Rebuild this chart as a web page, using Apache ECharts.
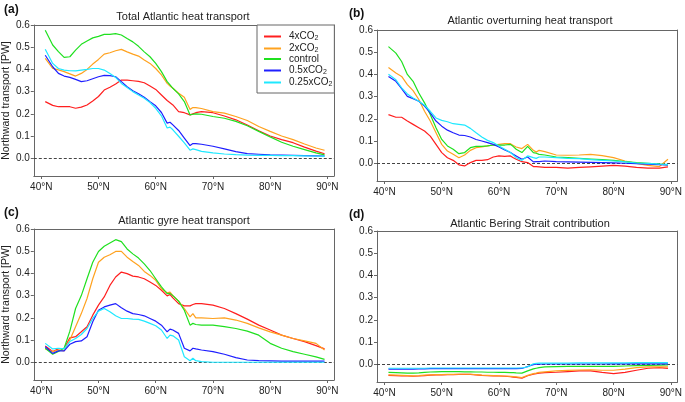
<!DOCTYPE html>
<html>
<head>
<meta charset="utf-8">
<script src="https://cdn.jsdelivr.net/npm/echarts@6/dist/echarts.min.js"></script>
<style>
  html, body { margin: 0; padding: 0; background: #fff; }
  #main { width: 685px; height: 402px; }
</style>
</head>
<body>
<div id="main"></div>
<script>
// latitude of each sample (°N), shared by every curve
const lats = [40.7, 42, 43, 44, 45, 46, 47, 48, 49, 50, 51, 52, 53, 54, 55, 56, 57, 58, 59, 60,
  61, 62, 62.5, 63, 64, 65, 66, 66.5, 67, 68, 70, 72, 74, 76, 78, 80, 82, 84, 86, 88, 89.5]

const scenarios = ['4xCO2', '2xCO2', 'control', '0.5xCO2', '0.25xCO2']
const colors = ['#ff1f1f', '#ffa21f', '#1fe01f', '#1f1fff', '#1fe8ff']
const panelTitles = ['Total Atlantic heat transport', 'Atlantic overturning heat transport',
  'Atlantic gyre heat transport', 'Atlantic Bering Strait contribution']
const panelTags = ['(a)', '(b)', '(c)', '(d)']
const xTicks = [40, 50, 60, 70, 80, 90]
const yTicks = [0, 0.1, 0.2, 0.3, 0.4, 0.5, 0.6]

// (a) total
const total4x = [0.255, 0.238, 0.232, 0.232, 0.232, 0.225, 0.23, 0.24, 0.258, 0.278, 0.307, 0.32, 0.334, 0.352, 0.352, 0.349, 0.346, 0.34, 0.325, 0.31,
  0.285, 0.26, 0.25, 0.24, 0.21, 0.205, 0.195, 0.2, 0.205, 0.21, 0.205, 0.19, 0.173, 0.15, 0.124, 0.1, 0.084, 0.07, 0.05, 0.032, 0.02]
const total2x = [0.45, 0.405, 0.398, 0.39, 0.38, 0.37, 0.382, 0.4, 0.424, 0.445, 0.469, 0.475, 0.484, 0.49, 0.479, 0.469, 0.46, 0.442, 0.427, 0.404,
  0.375, 0.337, 0.325, 0.315, 0.293, 0.275, 0.22, 0.228, 0.228, 0.224, 0.21, 0.203, 0.188, 0.17, 0.143, 0.121, 0.1, 0.084, 0.064, 0.046, 0.036]
const totalCtl = [0.576, 0.51, 0.48, 0.454, 0.457, 0.487, 0.513, 0.528, 0.542, 0.549, 0.558, 0.558, 0.561, 0.555, 0.539, 0.524, 0.504, 0.479, 0.457, 0.427,
  0.39, 0.345, 0.33, 0.315, 0.29, 0.255, 0.195, 0.198, 0.2, 0.198, 0.188, 0.18, 0.166, 0.146, 0.121, 0.096, 0.072, 0.054, 0.039, 0.024, 0.015]
const totalHalf = [0.464, 0.412, 0.382, 0.37, 0.364, 0.355, 0.345, 0.349, 0.358, 0.367, 0.373, 0.372, 0.367, 0.345, 0.322, 0.304, 0.29, 0.275, 0.255, 0.236,
  0.206, 0.158, 0.162, 0.15, 0.125, 0.091, 0.057, 0.066, 0.066, 0.063, 0.054, 0.042, 0.03, 0.021, 0.018, 0.015, 0.014, 0.013, 0.012, 0.011, 0.01]
const totalQuarter = [0.491, 0.427, 0.404, 0.397, 0.394, 0.393, 0.397, 0.4, 0.404, 0.404, 0.397, 0.382, 0.364, 0.337, 0.319, 0.3, 0.285, 0.27, 0.251, 0.225,
  0.191, 0.136, 0.14, 0.128, 0.099, 0.069, 0.036, 0.042, 0.039, 0.031, 0.024, 0.019, 0.016, 0.014, 0.013, 0.013, 0.012, 0.012, 0.011, 0.01, 0.008]

// (b) overturning
const moc4x = [0.219, 0.207, 0.207, 0.19, 0.175, 0.16, 0.145, 0.122, 0.085, 0.048, 0.025, 0.013, -0.007, -0.012, 0.003, 0.013, 0.013, 0.016, 0.028, 0.033,
  0.031, 0.033, 0.025, 0.018, 0.007, 0.003, -0.015, -0.015, -0.016, -0.019, -0.019, -0.022, -0.019, -0.016, -0.013, -0.01, -0.013, -0.019, -0.022, -0.022, -0.016]
const moc2x = [0.431, 0.406, 0.391, 0.354, 0.327, 0.287, 0.234, 0.19, 0.137, 0.085, 0.055, 0.04, 0.025, 0.037, 0.058, 0.07, 0.073, 0.078, 0.082, 0.085,
  0.088, 0.088, 0.08, 0.073, 0.066, 0.085, 0.058, 0.05, 0.058, 0.052, 0.037, 0.036, 0.037, 0.04, 0.034, 0.025, 0.01, -0.001, -0.01, -0.015, 0.018]
const mocCtl = [0.525, 0.496, 0.458, 0.4, 0.369, 0.316, 0.272, 0.219, 0.16, 0.107, 0.078, 0.063, 0.043, 0.048, 0.07, 0.076, 0.076, 0.078, 0.082, 0.082,
  0.082, 0.085, 0.075, 0.063, 0.048, 0.076, 0.048, 0.045, 0.04, 0.037, 0.028, 0.025, 0.022, 0.019, 0.016, 0.013, 0.007, 0.003, 0.0, -0.004, -0.007]
const mocHalf = [0.391, 0.369, 0.336, 0.301, 0.291, 0.279, 0.257, 0.227, 0.19, 0.167, 0.149, 0.137, 0.127, 0.125, 0.118, 0.107, 0.1, 0.093, 0.085, 0.073,
  0.06, 0.048, 0.04, 0.033, 0.018, 0.028, 0.006, 0.007, 0.007, 0.01, 0.007, 0.006, 0.005, 0.004, 0.003, 0.002, 0.0, -0.002, -0.004, -0.006, -0.008]
const mocQuarter = [0.401, 0.376, 0.339, 0.312, 0.294, 0.279, 0.261, 0.234, 0.204, 0.193, 0.187, 0.178, 0.175, 0.172, 0.157, 0.137, 0.118, 0.103, 0.093, 0.078,
  0.063, 0.048, 0.037, 0.025, 0.013, 0.033, 0.025, 0.022, 0.028, 0.028, 0.025, 0.022, 0.021, 0.016, 0.013, 0.01, 0.006, 0.001, -0.001, -0.004, -0.005]

// (c) gyre
const gyre4x = [0.073, 0.048, 0.06, 0.063, 0.11, 0.115, 0.137, 0.16, 0.212, 0.257, 0.294, 0.346, 0.384, 0.406, 0.399, 0.388, 0.384, 0.376, 0.361, 0.346,
  0.324, 0.299, 0.305, 0.29, 0.264, 0.254, 0.254, 0.26, 0.264, 0.264, 0.257, 0.242, 0.219, 0.194, 0.167, 0.145, 0.122, 0.107, 0.093, 0.075, 0.06]
const gyre2x = [0.06, 0.048, 0.055, 0.051, 0.1, 0.16, 0.219, 0.287, 0.376, 0.45, 0.473, 0.484, 0.499, 0.499, 0.473, 0.454, 0.436, 0.409, 0.391, 0.369,
  0.331, 0.313, 0.316, 0.3, 0.275, 0.242, 0.204, 0.219, 0.2, 0.2, 0.197, 0.2, 0.19, 0.175, 0.155, 0.137, 0.122, 0.107, 0.096, 0.085, 0.055]
const gyreCtl = [0.063, 0.036, 0.048, 0.063, 0.14, 0.242, 0.3, 0.376, 0.45, 0.499, 0.522, 0.537, 0.552, 0.543, 0.51, 0.488, 0.469, 0.443, 0.413, 0.376,
  0.339, 0.309, 0.31, 0.3, 0.275, 0.234, 0.167, 0.175, 0.17, 0.167, 0.167, 0.16, 0.152, 0.14, 0.122, 0.085, 0.063, 0.048, 0.036, 0.024, 0.013]
const gyreHalf = [0.07, 0.04, 0.051, 0.051, 0.081, 0.093, 0.096, 0.115, 0.182, 0.234, 0.249, 0.257, 0.264, 0.245, 0.23, 0.219, 0.215, 0.209, 0.197, 0.185,
  0.167, 0.137, 0.149, 0.145, 0.13, 0.063, 0.051, 0.063, 0.06, 0.055, 0.048, 0.036, 0.021, 0.01, 0.007, 0.006, 0.005, 0.005, 0.005, 0.005, 0.005]
const gyreQuarter = [0.085, 0.06, 0.063, 0.06, 0.093, 0.107, 0.125, 0.152, 0.197, 0.23, 0.242, 0.227, 0.209, 0.197, 0.197, 0.194, 0.193, 0.185, 0.175, 0.164,
  0.145, 0.107, 0.122, 0.119, 0.1, 0.025, 0.007, 0.018, 0.007, 0.003, 0.0, 0.0, 0.0, 0.0, 0.0, 0.0, 0.0, 0.0, 0.0, 0.0, 0.0]

// (d) Bering Strait
const bering4x = [-0.05, -0.051, -0.052, -0.053, -0.054, -0.053, -0.051, -0.049, -0.048, -0.048, -0.047, -0.047, -0.046, -0.046, -0.046, -0.048, -0.05, -0.051, -0.052, -0.053,
  -0.054, -0.056, -0.058, -0.059, -0.063, -0.052, -0.045, -0.042, -0.04, -0.038, -0.036, -0.033, -0.03, -0.03, -0.037, -0.042, -0.037, -0.027, -0.018, -0.015, -0.019]
const bering2x = [-0.048, -0.049, -0.05, -0.051, -0.052, -0.051, -0.049, -0.048, -0.047, -0.047, -0.046, -0.046, -0.045, -0.045, -0.045, -0.047, -0.049, -0.05, -0.051, -0.052,
  -0.053, -0.055, -0.056, -0.057, -0.06, -0.05, -0.042, -0.04, -0.037, -0.034, -0.03, -0.028, -0.026, -0.025, -0.027, -0.027, -0.022, -0.015, -0.012, -0.012, -0.012]
const beringCtl = [-0.037, -0.038, -0.039, -0.04, -0.04, -0.039, -0.037, -0.035, -0.034, -0.033, -0.033, -0.033, -0.033, -0.034, -0.034, -0.035, -0.035, -0.036, -0.036, -0.037,
  -0.037, -0.038, -0.038, -0.039, -0.04, -0.03, -0.021, -0.018, -0.015, -0.012, -0.011, -0.01, -0.01, -0.01, -0.01, -0.01, -0.008, -0.006, -0.005, -0.004, -0.003]
const beringHalf = [-0.022, -0.022, -0.022, -0.022, -0.022, -0.021, -0.021, -0.02, -0.02, -0.02, -0.02, -0.02, -0.02, -0.02, -0.02, -0.02, -0.02, -0.02, -0.02, -0.02,
  -0.02, -0.02, -0.02, -0.02, -0.019, -0.01, -0.002, 0.0, 0.0, 0.001, 0.001, 0.001, 0.001, 0.001, 0.001, 0.002, 0.002, 0.002, 0.002, 0.002, 0.002]
const beringQuarter = [-0.018, -0.018, -0.018, -0.018, -0.018, -0.018, -0.018, -0.017, -0.017, -0.017, -0.017, -0.017, -0.017, -0.017, -0.017, -0.017, -0.017, -0.017, -0.017, -0.017,
  -0.017, -0.017, -0.017, -0.017, -0.017, -0.012, 0.002, 0.004, 0.005, 0.005, 0.005, 0.005, 0.006, 0.006, 0.006, 0.006, 0.006, 0.007, 0.007, 0.007, 0.007]

const panels = [
  [total4x, total2x, totalCtl, totalHalf, totalQuarter],
  [moc4x, moc2x, mocCtl, mocHalf, mocQuarter],
  [gyre4x, gyre2x, gyreCtl, gyreHalf, gyreQuarter],
  [bering4x, bering2x, beringCtl, beringHalf, beringQuarter]
]

const font = "'Liberation Sans', Arial, sans-serif"
const grids = [
  { left: 32, top: 25, width: 302, height: 151 },
  { left: 377, top: 30, width: 302, height: 151 },
  { left: 32, top: 229, width: 302, height: 151 },
  { left: 377, top: 231, width: 302, height: 151 }
]
const titlePos = [[183, 11], [530, 15], [184, 215], [530, 218]]
const tagPos = [[4, 4], [349, 8], [4, 207], [349, 209]]
const frameColor = '#666'

var myChart = echarts.init(document.getElementById('main'))

let titles = []
panelTitles.forEach((t, i) => {
  titles.push({
    text: t, left: titlePos[i][0], top: titlePos[i][1], textAlign: 'center', padding: 0,
    textStyle: { fontSize: 11, fontWeight: 'normal', color: '#222', fontFamily: font }
  })
  titles.push({
    text: panelTags[i], left: tagPos[i][0], top: tagPos[i][1], padding: 0,
    textStyle: { fontSize: 12, fontWeight: 'bold', color: '#111', fontFamily: font }
  })
})

// bottom / left axes carry ticks and labels
let xAxes = grids.map((g, i) => ({
  type: 'value', gridIndex: i, min: 38.7, max: 91.15, position: 'bottom',
  axisLine: { show: true, onZero: false, lineStyle: { color: frameColor } },
  splitLine: { show: false },
  axisTick: { show: true, length: 3, customValues: xTicks, lineStyle: { color: frameColor } },
  axisLabel: {
    customValues: xTicks, formatter: v => v + '°N',
    fontSize: 10, color: '#222', margin: 6, fontFamily: font
  }
}))
let yAxes = grids.map((g, i) => ({
  type: 'value', gridIndex: i, min: -0.08, max: 0.6, position: 'left',
  name: (i % 2 === 0) ? 'Northward transport [PW]' : '',
  nameLocation: 'middle', nameGap: 20,
  nameTextStyle: { fontSize: 10.5, color: '#222', fontFamily: font },
  axisLine: { show: true, onZero: false, lineStyle: { color: frameColor } },
  splitLine: { show: false },
  axisTick: { show: true, length: 3, customValues: yTicks, lineStyle: { color: frameColor } },
  axisLabel: {
    customValues: yTicks, formatter: v => v.toFixed(1),
    fontSize: 10, color: '#222', margin: 4, fontFamily: font
  }
}))
// top / right axes only close the box
grids.forEach((g, i) => {
  xAxes.push({
    type: 'value', gridIndex: i, min: 38.7, max: 91.15, position: 'top',
    axisLine: { show: true, onZero: false, lineStyle: { color: frameColor } },
    axisTick: { show: false }, axisLabel: { show: false }, splitLine: { show: false }
  })
  yAxes.push({
    type: 'value', gridIndex: i, min: -0.08, max: 0.6, position: 'right',
    axisLine: { show: true, onZero: false, lineStyle: { color: frameColor } },
    axisTick: { show: false }, axisLabel: { show: false }, splitLine: { show: false }
  })
})

let series = []
panels.forEach((vals, p) => {
  vals.forEach((v, s) => {
    let item = {
      name: scenarios[s], type: 'line',
      xAxisIndex: p, yAxisIndex: p,
      showSymbol: false, symbol: 'none',
      lineStyle: { width: 1.2, color: colors[s] },
      itemStyle: { color: colors[s] },
      data: lats.map((x, k) => [x, v[k]]),
      z: 3
    }
    if (s === 0) {
      item.markLine = {
        silent: true, symbol: ['none', 'none'], label: { show: false },
        lineStyle: { type: [3, 2], color: '#444', width: 1 },
        data: [{ yAxis: 0 }], z: 1
      }
    }
    series.push(item)
  })
})

let option = {
  animation: false,
  backgroundColor: '#fff',
  textStyle: { fontFamily: font },
  title: titles,
  grid: grids,
  xAxis: xAxes,
  yAxis: yAxes,
  legend: {
    data: scenarios,
    orient: 'vertical',
    left: 257, top: 25,
    padding: [5, 2, 5, 7],
    itemGap: 0,
    itemWidth: 17, itemHeight: 2,
    icon: 'rect',
    backgroundColor: '#fff',
    borderColor: frameColor, borderWidth: 1,
    formatter: name => name.endsWith('CO2') ? '{m|' + name.slice(0, -1) + '}{s|2}' : '{m|' + name + '}',
    textStyle: {
      fontFamily: font, color: '#222', padding: [0, 0, 0, 3],
      rich: {
        m: { fontSize: 10, lineHeight: 11, fontFamily: font, color: '#222' },
        s: { fontSize: 7, lineHeight: 11, verticalAlign: 'bottom', padding: [5, 0, 0, 0], fontFamily: font, color: '#222' }
      }
    }
  },
  series: series
}

myChart.setOption(option)
</script>
</body>
</html>
